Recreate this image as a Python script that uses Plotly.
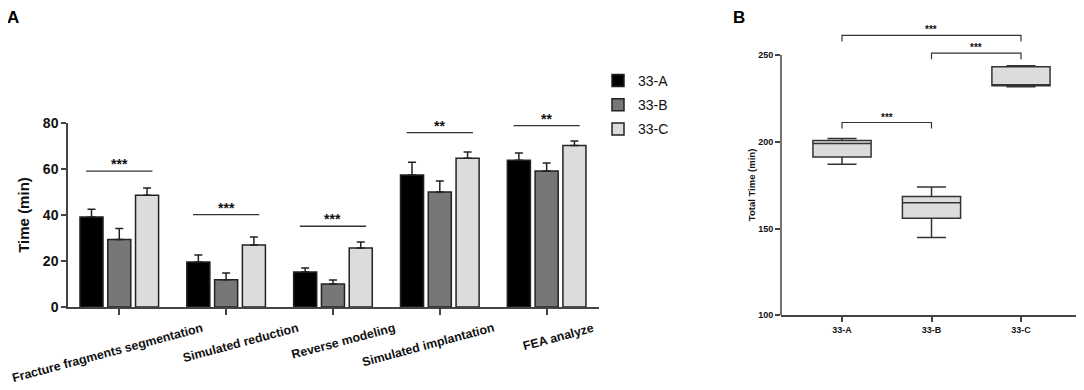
import plotly.graph_objects as go

# ---------------- data ----------------
categories = ["Fracture fragments segmentation", "Simulated reduction",
              "Reverse modeling", "Simulated implantation", "FEA analyze"]
series_names = ["33-A", "33-B", "33-C"]
mean_a = [39.1, 19.6, 15.2, 57.4, 63.8]
mean_b = [29.4, 11.9, 10.0, 50.0, 59.1]
mean_c = [48.6, 27.0, 25.7, 64.7, 70.2]
sd_a = [3.4, 3.0, 1.8, 5.5, 3.2]
sd_b = [4.7, 2.9, 1.7, 4.8, 3.5]
sd_c = [3.1, 3.4, 2.6, 2.7, 2.0]
sig_level = [59.1, 40.2, 35.1, 75.8, 78.9]
sig_text = ["***", "***", "***", "**", "**"]

groups = ["33-A", "33-B", "33-C"]
box_upper = [201.9, 174.0, 243.8]
box_q3 = [200.7, 168.4, 243.2]
box_median = [199.0, 164.9, 232.6]
box_q1 = [191.3, 155.9, 232.3]
box_lower = [187.1, 144.8, 231.7]
bracket_pairs = [(0, 2), (1, 2), (0, 1)]
bracket_level = [261.3, 251.1, 211.1]
bracket_text = ["***", "***", "***"]

# ---------------- styles ----------------
FONT = "Arial, Liberation Sans, sans-serif"
AX = "#444444"
bar_colors = ["#000000", "#777777", "#dcdcdc"]
label_xshift = [-12, 14, 11, -12, 12]
W, H = 1084, 390
OFF = 8  # page body offset


def px(x):
    return (x - OFF) / W


def py(y):
    return 1 - (y - OFF) / H


fig = go.Figure()
xs = list(range(len(categories)))
for name, vals, sds, col, grp in zip(series_names, [mean_a, mean_b, mean_c],
                                     [sd_a, sd_b, sd_c], bar_colors, ["a", "b", "c"]):
    fig.add_trace(go.Bar(
        x=xs, y=vals, name=name, legendgroup=grp,
        marker=dict(color=col, line=dict(color="#222222", width=1.5)),
        error_y=dict(type="data", array=sds, arrayminus=[0] * len(sds), symmetric=False,
                     color="#222222", thickness=1.5, width=4),
        xaxis="x", yaxis="y"))

fig.add_trace(go.Box(
    x=list(range(len(groups))), q1=box_q1, median=box_median, q3=box_q3,
    lowerfence=box_lower, upperfence=box_upper,
    width=0.65, whiskerwidth=0.5, fillcolor="#dcdcdc",
    line=dict(color="#333333", width=1.5), showlegend=False,
    xaxis="x2", yaxis="y2"))

shapes = []
annotations = []
for i, (lv, tx) in enumerate(zip(sig_level, sig_text)):
    shapes.append(dict(type="line", xref="x", yref="y", x0=i - 0.31, x1=i + 0.31,
                       y0=lv, y1=lv, line=dict(color="#333333", width=1.3)))
    annotations.append(dict(x=i, y=lv, xref="x", yref="y", text=tx, showarrow=False,
                            yanchor="bottom", yshift=-3,
                            font=dict(family=FONT, size=14, color="#111", weight="bold")))
for i, (cat, sh) in enumerate(zip(categories, label_xshift)):
    annotations.append(dict(x=i, y=py(318), xref="x", yref="paper", text=cat,
                            showarrow=False, textangle=-15, xanchor="center", yanchor="top",
                            xshift=sh,
                            font=dict(family=FONT, size=12.4, color="#111", weight="bold")))
for (a, b), lv, tx in zip(bracket_pairs, bracket_level, bracket_text):
    shapes.append(dict(type="path", xref="x2", yref="y2",
                       path=f"M {a},{lv - 3.5} L {a},{lv} L {b},{lv} L {b},{lv - 3.5}",
                       line=dict(color="#333333", width=1.2)))
    annotations.append(dict(x=(a + b) / 2, y=lv, xref="x2", yref="y2", text=tx,
                            showarrow=False, yanchor="bottom", yshift=-2,
                            font=dict(family=FONT, size=10, color="#111", weight="bold")))
shapes.append(dict(type="line", xref="x2 domain", yref="y2", x0=0, x1=0, y0=100, y1=250,
                   line=dict(color=AX, width=1.5)))
annotations.append(dict(x=px(751), y=175, xref="paper", yref="y2", text="Total Time (min)",
                        showarrow=False, textangle=-90, xanchor="center",
                        font=dict(family=FONT, size=9.5, color="#111", weight="bold")))
annotations.append(dict(x=px(13), y=py(17), xref="paper", yref="paper", text="A",
                        xanchor="center", yanchor="middle",
                        showarrow=False, font=dict(family=FONT, size=17, color="#000", weight="bold")))
annotations.append(dict(x=px(739), y=py(17), xref="paper", yref="paper", text="B",
                        xanchor="center", yanchor="middle",
                        showarrow=False, font=dict(family=FONT, size=17, color="#000", weight="bold")))

fig.update_layout(
    width=W, height=H,
    margin=dict(l=0, r=0, t=0, b=0, pad=0, autoexpand=False),
    paper_bgcolor="white", plot_bgcolor="white",
    font=dict(family=FONT, color="#111"),
    barmode="group", bargap=0.22, bargroupgap=0.17,
    showlegend=True,
    legend=dict(x=px(598), y=py(65), xanchor="left", yanchor="top",
                font=dict(family=FONT, size=14, color="#111"), tracegroupgap=3,
                bgcolor="rgba(0,0,0,0)"),
    xaxis=dict(domain=[px(68), px(599)], range=[-0.48, 4.49],
               tickvals=xs, showticklabels=False, ticks="outside", ticklen=6,
               tickcolor=AX, tickwidth=1.5, showline=True, linecolor=AX, linewidth=1.5,
               showgrid=False, zeroline=False),
    yaxis=dict(domain=[py(307), py(123)], range=[0, 80],
               tickvals=[0, 20, 40, 60, 80], ticks="outside", ticklen=5,
               tickcolor=AX, tickwidth=1.5, showline=True, linecolor=AX, linewidth=1.5,
               showgrid=False, zeroline=False,
               tickfont=dict(family=FONT, size=14, color="#111", weight="bold"),
               title=dict(text="Time (min)", standoff=10,
                          font=dict(family=FONT, size=15, color="#111", weight="bold"))),
    xaxis2=dict(domain=[px(781), px(1082)], range=[-0.682, 2.682], anchor="y2",
                tickvals=list(range(len(groups))), ticktext=groups, ticks="outside", ticklen=5,
                tickcolor=AX, tickwidth=1.5, showline=True, linecolor=AX, linewidth=1.5,
                showgrid=False, zeroline=False,
                tickfont=dict(family=FONT, size=9, color="#111", weight="bold")),
    yaxis2=dict(domain=[py(315.3), py(29)], range=[100, 265], anchor="x2",
                tickvals=[100, 150, 200, 250], ticks="outside", ticklen=5,
                tickcolor=AX, tickwidth=1.5, showline=False,
                showgrid=False, zeroline=False,
                tickfont=dict(family=FONT, size=9, color="#111", weight="bold")),
    shapes=shapes, annotations=annotations,
)

fig.write_html("out.html")
